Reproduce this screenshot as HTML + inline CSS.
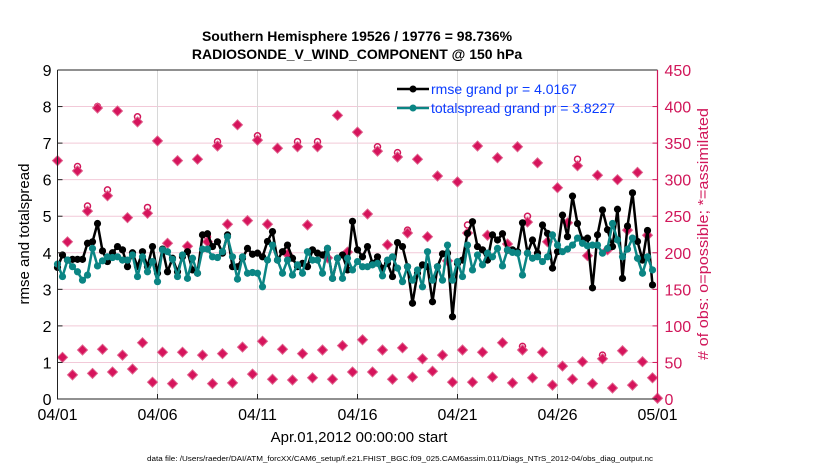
<!DOCTYPE html>
<html><head><meta charset="utf-8"><style>
body{margin:0;background:#fff;}
svg{display:block;font-family:"Liberation Sans",sans-serif;}
</style></head><body>
<svg id="chart" width="830" height="470" viewBox="0 0 830 470">
<g id="grid"></g>
<g id="obs"></g>
<g id="lines"></g>
<g id="axes"></g>
<text x="357" y="41" text-anchor="middle" font-size="14" font-weight="bold">Southern Hemisphere 19526 / 19776 = 98.736%</text>
<text x="357" y="59" text-anchor="middle" font-size="14" font-weight="bold">RADIOSONDE_V_WIND_COMPONENT @ 150 hPa</text>
<text x="359" y="442" text-anchor="middle" font-size="15">Apr.01,2012 00:00:00 start</text>
<text transform="translate(29,234) rotate(-90)" text-anchor="middle" font-size="15">rmse and totalspread</text>
<text transform="translate(708,234) rotate(-90)" text-anchor="middle" font-size="15" fill="#d1175a" textLength="252" lengthAdjust="spacingAndGlyphs"># of obs: o=possible; *=assimilated</text>
<text x="400" y="461" text-anchor="middle" font-size="7" textLength="506" lengthAdjust="spacingAndGlyphs">data file: /Users/raeder/DAI/ATM_forcXX/CAM6_setup/f.e21.FHIST_BGC.f09_025.CAM6assim.011/Diags_NTrS_2012-04/obs_diag_output.nc</text>
<g>
<line x1="397" y1="89" x2="429" y2="89" stroke="#000" stroke-width="2.5"/>
<circle cx="413" cy="89" r="3.5" fill="#000"/>
<text x="431" y="94" font-size="14" fill="#0a3cff">rmse grand pr = 4.0167</text>
<line x1="397" y1="108" x2="429" y2="108" stroke="#0b8584" stroke-width="2.5"/>
<circle cx="413" cy="108" r="3.5" fill="#0b8584"/>
<text x="431" y="113" font-size="14" fill="#0a3cff">totalspread grand pr = 3.8227</text>
</g>
</svg>
<script>
const rmse=[3.6,3.94,3.80,3.82,3.82,3.82,4.26,4.30,4.80,4.05,3.76,4.00,4.17,4.08,3.62,4.00,3.62,4.03,3.62,4.17,3.44,4.10,3.48,3.85,3.48,3.89,4.03,3.53,3.44,4.49,4.52,4.17,4.30,3.99,4.49,3.62,3.62,3.85,4.12,3.96,3.99,
3.89,4.31,4.58,3.80,4.03,4.21,3.85,3.62,3.71,3.62,4.08,3.99,3.94,4.12,3.30,3.85,3.94,3.53,4.86,4.08,3.89,4.17,3.71,3.89,3.58,3.71,3.35,4.28,4.17,3.62,2.62,3.44,3.67,3.62,2.66,3.62,3.97,3.99,2.25,3.71,
3.80,4.53,4.85,4.17,4.08,3.80,4.49,4.35,4.52,4.07,4.08,4.03,4.82,3.99,4.35,3.99,4.76,4.53,3.58,4.03,5.03,4.44,5.55,4.80,4.35,4.40,3.04,4.49,5.17,4.63,4.17,5.19,3.30,4.73,5.64,4.31,3.80,4.61,3.12];
const spread=[3.69,3.35,3.80,3.62,3.48,3.25,3.39,4.12,3.64,3.78,3.89,3.87,3.89,3.80,3.80,3.94,3.35,3.89,3.48,3.76,3.21,4.08,4.03,3.82,3.35,3.94,3.30,3.85,3.44,4.10,4.10,3.89,3.87,4.03,4.44,3.89,3.28,3.89,3.44,3.46,3.44,
3.07,3.80,4.21,3.80,3.44,3.80,3.39,3.67,3.44,4.03,3.80,3.80,3.44,4.12,3.30,3.85,3.30,3.85,3.53,3.76,3.62,3.62,3.67,3.71,3.37,3.80,3.89,3.58,3.21,3.62,3.25,3.53,3.07,4.03,3.25,3.62,3.25,4.21,3.25,3.76,
3.35,4.21,3.53,3.94,3.67,3.99,3.89,4.12,3.64,4.08,4.01,3.99,3.39,3.99,3.85,3.89,3.76,3.89,4.49,4.21,4.03,4.10,4.21,4.40,4.26,4.19,4.21,4.21,3.99,4.12,4.80,4.35,3.89,4.10,4.40,3.85,3.44,3.89,3.53];
const assimilated=[326,57,215,33,312,67,257,35,398,68,278,37,394,60,248,41,379,77,254,23,353,64,213,21,326,64,209,33,328,60,215,21,346,62,239,22,375,71,244,34,354,
79,239,27,343,68,198,26,345,62,238,29,345,67,193,27,388,73,201,37,365,81,253,37,339,67,211,27,331,70,227,30,328,55,222,38,305,60,189,23,297,
67,227,23,346,64,224,30,330,77,212,22,345,67,242,29,323,64,215,19,289,45,241,27,319,51,196,21,306,55,204,15,300,66,231,19,310,51,224,29,1];
const possible=[326,57,215,33,318,67,264,35,400,68,286,37,394,60,248,41,386,77,262,23,353,64,213,21,326,64,209,33,328,60,222,21,352,62,239,22,375,71,244,34,360,
79,239,27,343,68,198,26,352,62,238,29,352,67,193,27,388,73,201,37,365,81,253,37,345,67,211,27,337,70,231,30,328,55,222,38,305,60,189,23,297,
67,238,23,346,64,224,30,330,77,212,22,345,72,250,29,323,64,215,19,289,45,241,27,328,51,196,21,306,60,204,15,300,66,231,19,310,51,224,29,1];
const xTickLabels=["04/01","04/06","04/11","04/16","04/21","04/26","05/01"];
const yTicksLeft=[0,1,2,3,4,5,6,7,8,9];
const yTicksRight=[0,50,100,150,200,250,300,350,400,450];

const NS="http://www.w3.org/2000/svg";
const X0=57.5,X1=657.5,Y0=399,Y1=70;
const xDay=d=>X0+(X1-X0)*d/30;
const xIdx=i=>xDay(i/4);
const yL=v=>Y0-(Y0-Y1)*v/9;
const yR=v=>Y0-(Y0-Y1)*v/450;
function mk(tag,attrs,parent){const e=document.createElementNS(NS,tag);for(const k in attrs)e.setAttribute(k,attrs[k]);parent.appendChild(e);return e;}
const grid=document.getElementById('grid'),axes=document.getElementById('axes'),obs=document.getElementById('obs'),lines=document.getElementById('lines');

yTicksLeft.forEach(v=>{
  if(v>0&&v<9){const g=mk('line',{x1:X0,x2:X1,y1:yL(v),y2:yL(v),stroke:'#f2c9d8','stroke-width':1},grid);
  
  }
  mk('line',{x1:X0,x2:X0+5,y1:yL(v),y2:yL(v),stroke:'#222'},axes);
  const t=mk('text',{x:X0-6,y:yL(v)+6,'text-anchor':'end','font-size':16},axes);
  t.textContent=v;
  
  
});
yTicksRight.forEach(v=>{
  mk('line',{x1:X1-5,x2:X1,y1:yR(v),y2:yR(v),stroke:'#d1175a'},axes);
  const t=mk('text',{x:X1+7,y:yR(v)+6,'font-size':16,fill:'#d1175a'},axes);
  t.textContent=v;
  
  
});
xTickLabels.forEach((lab,k)=>{
  const x=xDay(k*5);
  if(k>0&&k<6){const g=mk('line',{x1:x,x2:x,y1:Y1,y2:Y0,stroke:'#d8d8d8'},grid);
  
  }
  mk('line',{x1:x,x2:x,y1:Y0,y2:Y0-5,stroke:'#222'},axes);
  const t=mk('text',{x:x,y:420,'text-anchor':'middle','font-size':16},axes);
  t.textContent=lab;
  
  
});
mk('path',{d:`M${X0},${Y1}H${X1}M${X0},${Y1}V${Y0}H${X1}`,fill:'none',stroke:'#222','stroke-width':1},axes);
mk('line',{x1:X1,x2:X1,y1:Y1,y2:Y0,stroke:'#d1175a','stroke-width':1.2},axes);

possible.forEach((v,i)=>{
  const c=mk('circle',{cx:xIdx(i),cy:yR(v),r:3,fill:'none',stroke:'#d1175a','stroke-width':1.5},obs);
  
  
});
assimilated.forEach((v,i)=>{
  const x=xIdx(i),y=yR(v);
  const p=mk('path',{d:`M${x},${y-5}L${x+5},${y}L${x},${y+5}L${x-5},${y}Z`,fill:'#d6145c',stroke:'#e0608c','stroke-width':1},obs);
  
  
});
function series(vals,color,name){
  const d=vals.map((v,i)=>(i?'L':'M')+xIdx(i).toFixed(1)+','+yL(v).toFixed(1)).join('');
  const l=mk('path',{d:d,fill:'none',stroke:color,'stroke-width':2.5,'stroke-linejoin':'round'},lines);
  
  
  vals.forEach((v,i)=>{
    const c=mk('circle',{cx:xIdx(i),cy:yL(v),r:3.6,fill:color},lines);
    
    
  });
}
series(rmse,'#000','rmse');
series(spread,'#0b8584','totalspread');
</script>
</body></html>
